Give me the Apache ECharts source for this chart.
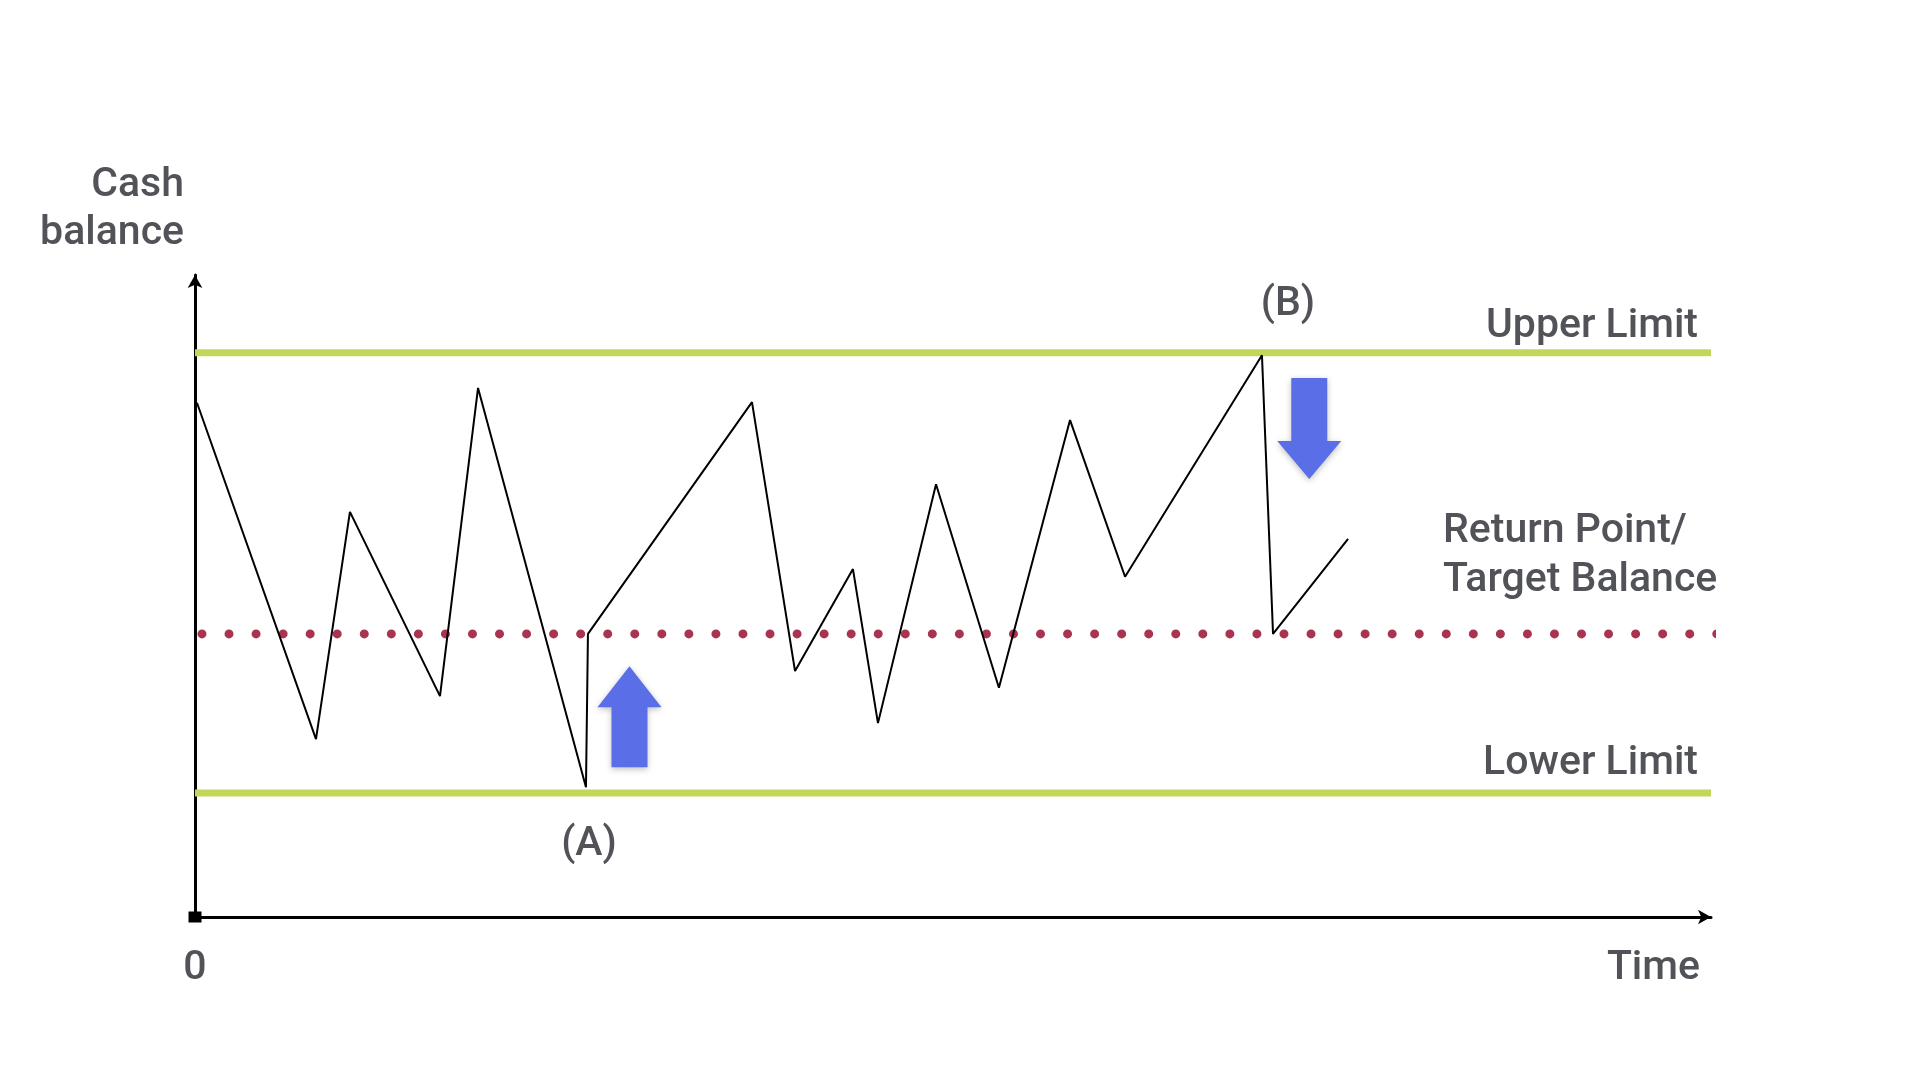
<!DOCTYPE html>
<html>
<head>
<meta charset="utf-8">
<script src="https://cdn.jsdelivr.net/npm/echarts@6/dist/echarts.min.js"></script>
<style>
  html, body { margin: 0; padding: 0; background: #ffffff; }
  #chart { width: 1920px; height: 1080px; }
</style>
</head>
<body>
<div id="chart"></div>
<script>
// ---- data (time axis 0..100, cash balance axis 0..100) ----
const pathTime    = [0.13, 7.98, 10.22, 16.16, 18.67, 25.79, 25.92, 36.74, 39.58, 43.40, 45.05, 48.88, 53.03, 57.72, 61.35, 70.38, 71.11, 76.06];
const pathBalance = [80.1, 27.7, 63.1, 34.4, 82.4, 20.2, 44.1, 80.2, 38.3, 54.2, 30.2, 67.4, 35.7, 77.4, 53.0, 87.5, 44.1, 58.9];
const upperLimit = 87.9;
const lowerLimit = 19.3;
const targetBalance = 44.1;
const limitStart = 0, limitEnd = 100;
const targetStart = 0.46, targetEnd = 100.5;
const arrowTime    = [28.66, 73.5];
const arrowBalance = [31.2, 76.1];
const arrowDir     = ['up', 'down'];
const xTickLabels = ['0'];

const TEXT = '#515359';
const FONT = 'Roboto, "Liberation Sans", sans-serif';
const UP_PATH = 'path://M32,0 L64,41 L50,41 L50,101 L14,101 L14,41 L0,41 Z';
const DOWN_PATH = 'path://M14,0 L50,0 L50,63 L64,63 L32,101 L0,63 L14,63 Z';

const chart = echarts.init(document.getElementById('chart'), null, { renderer: 'canvas' });

const pathData = pathTime.map((t, i) => [t, pathBalance[i]]);
const arrowData = arrowTime.map((t, i) => ({
  value: [t, arrowBalance[i]],
  symbol: arrowDir[i] === 'up' ? UP_PATH : DOWN_PATH
}));

function textEl(str, x, y, align, vAlign, lh) {
  return {
    type: 'text', x: x, y: y, silent: true,
    style: {
      text: str, fill: TEXT, font: '500 41px ' + FONT,
      textAlign: align, textVerticalAlign: vAlign, lineHeight: lh || 48
    }
  };
}

const option = {
  backgroundColor: '#ffffff',
  animation: false,
  grid: { left: 195, right: 209, top: 275, bottom: 163, containLabel: false },
  xAxis: {
    type: 'value', min: 0, max: 100, interval: 100,
    axisLine: { show: true, lineStyle: { color: '#000', width: 3 },
      symbol: ['rect', 'arrow'], symbolSize: [11, 13] },
    axisTick: { show: false },
    splitLine: { show: false },
    axisLabel: {
      show: true, margin: 31, color: TEXT, fontSize: 41, fontWeight: 500, fontFamily: FONT,
      formatter: function (v) { return v === 0 ? xTickLabels[0] : ''; }
    }
  },
  yAxis: {
    type: 'value', min: 0, max: 100, interval: 100,
    axisLine: { show: true, lineStyle: { color: '#000', width: 3 },
      symbol: ['none', 'arrow'], symbolSize: [11, 13] },
    axisTick: { show: false },
    splitLine: { show: false },
    axisLabel: { show: false }
  },
  series: [
    {
      name: 'Upper Limit', type: 'line', symbol: 'none', silent: true,
      data: [[limitStart, upperLimit], [limitEnd, upperLimit]],
      lineStyle: { color: '#c4d65a', width: 7 }, z: 2
    },
    {
      name: 'Lower Limit', type: 'line', symbol: 'none', silent: true,
      data: [[limitStart, lowerLimit], [limitEnd, lowerLimit]],
      lineStyle: { color: '#c4d65a', width: 7 }, z: 2
    },
    {
      name: 'Return Point', type: 'line', symbol: 'none', silent: true, clip: false,
      data: [[targetStart, targetBalance], [targetEnd, targetBalance]],
      lineStyle: { color: '#a8344f', width: 9, type: [0, 27.05], cap: 'round' }, z: 3
    },
    {
      name: 'Cash balance', type: 'line', symbol: 'none', silent: true,
      data: pathData,
      lineStyle: { color: '#000000', width: 2 }, z: 5
    },
    {
      name: 'Transfers', type: 'scatter', silent: true,
      data: arrowData,
      symbolSize: [64, 101],
      itemStyle: { color: '#5a6ee8', opacity: 1, shadowBlur: 6, shadowColor: 'rgba(0,0,0,0.25)', shadowOffsetY: 2 },
      z: 4
    }
  ],
  graphic: [
    textEl('Cash\nbalance', 184, 210, 'right', 'middle', 48),
    textEl('Upper Limit', 1698, 327, 'right', 'middle'),
    textEl('Lower Limit', 1698, 764, 'right', 'middle'),
    textEl('Return Point/\nTarget Balance', 1443, 556, 'left', 'middle', 49),
    textEl('(B)', 1288, 305, 'center', 'middle'),
    textEl('(A)', 589, 845, 'center', 'middle'),
    textEl('Time', 1700, 969, 'right', 'middle')
  ]
};
chart.setOption(option);
</script>
</body>
</html>
